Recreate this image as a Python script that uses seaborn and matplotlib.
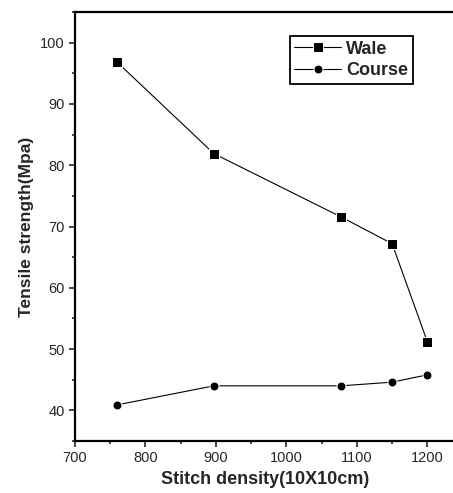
import numpy as np
import pandas as pd
import matplotlib
matplotlib.use("Agg")
import matplotlib.pyplot as plt
import seaborn as sns
from matplotlib.ticker import MultipleLocator

# values
stitch_density = [760, 897, 1077, 1150, 1200]
wale = [96.8, 81.9, 71.6, 67.2, 51.2]
course = [40.9, 44.0, 44.0, 44.6, 45.8]

df = pd.DataFrame({
    "density": stitch_density * 2,
    "strength": wale + course,
    "dir": ["Wale"] * len(wale) + ["Course"] * len(course),
})

sns.set_style("ticks", {"axes.spines.top": True, "axes.spines.right": True})
plt.rcParams["font.family"] = ["Liberation Sans", "DejaVu Sans"]

fig = plt.figure(figsize=(4.53, 4.93), dpi=100)
ax = fig.add_axes([0.1656, 0.1055, 0.84, 0.870])

sns.lineplot(data=df, x="density", y="strength", hue="dir", style="dir",
             palette=["black", "black"], markers={"Wale": "s", "Course": "o"},
             dashes=False, markersize=6.5, linewidth=0.8, ax=ax)

ax.set_xlim(700, 1240)
ax.set_ylim(35, 105)
ax.xaxis.set_major_locator(MultipleLocator(100))
ax.xaxis.set_minor_locator(MultipleLocator(50))
ax.yaxis.set_major_locator(MultipleLocator(10))
ax.yaxis.set_minor_locator(MultipleLocator(5))
ax.tick_params(which="major", length=4, width=1.2, labelsize=10.5)
ax.tick_params(which="minor", length=2.5, width=1.2)
for sp in ax.spines.values():
    sp.set_visible(True)
    sp.set_linewidth(1.6)
    sp.set_color("black")

ax.set_xlabel("Stitch density(10X10cm)", fontsize=13, fontweight="bold")
ax.set_ylabel("Tensile strength(Mpa)", fontsize=12.5, fontweight="bold")

leg = ax.legend(loc="upper left", bbox_to_anchor=(0.54, 0.965), fontsize=13,
                frameon=True, fancybox=False, handlelength=2.6,
                borderpad=0.25, labelspacing=0.25, handletextpad=0.3)
leg.get_frame().set_edgecolor("black")
leg.get_frame().set_linewidth(1.3)
leg.get_frame().set_alpha(1)
for t in leg.get_texts():
    t.set_fontweight("bold")

fig.savefig("out.png", dpi=100)
